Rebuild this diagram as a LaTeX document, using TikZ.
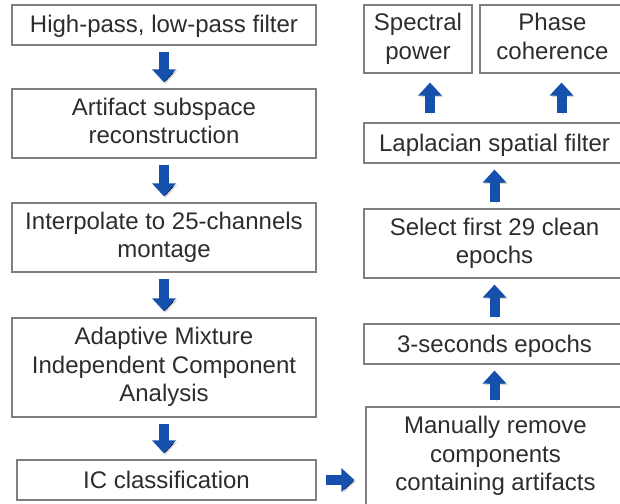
\documentclass[tikz,border=0pt]{standalone}
\usepackage{fontspec}
\setmainfont{Liberation Sans}
\usetikzlibrary{arrows.meta}
\definecolor{boxline}{RGB}{127,127,127}
\definecolor{boxtext}{RGB}{45,45,45}
\definecolor{arrowblue}{RGB}{20,80,172}
\newcommand{\boxstrut}{\rule[-5.5pt]{0pt}{27pt}}

\begin{document}
\begin{tikzpicture}[x=1pt, y=-1pt,
		box/.style={draw=boxline, line width=1.2pt, rectangle, align=center, text=boxtext, inner sep=0pt, font=\fontsize{24}{28.5}\selectfont, execute at begin node=\boxstrut, execute at end node=\boxstrut},
		flow/.style={draw=arrowblue, line width=10pt, -{Triangle[length=13pt, width=23pt]}, shorten <=6pt, shorten >=6pt,
			preaction={draw=black, draw opacity=0.15, transform canvas={xshift=1.5pt, yshift=-1.5pt}}}]
		\useasboundingbox (0,0) rectangle (620,503);
		% left column, top to bottom
		\node (hplp) [box, minimum width=304pt, minimum height=40pt] at (164,25) {High-pass, low-pass filter};
		\node (asr) [box, minimum width=304pt, minimum height=69pt] at (164,123.5) {Artifact subspace\\reconstruction};
		\node (interp) [box, minimum width=304pt, minimum height=69pt] at (164,237.5) {Interpolate to 25-channels\\montage};
		\node (amica) [box, minimum width=304pt, minimum height=99pt] at (164,367.5) {Adaptive Mixture\\Independent Component\\Analysis};
		\node (iclabel) [box, minimum width=299pt, minimum height=40pt] at (166.5,480) {IC classification};
		% right column, bottom to top
		\node (manual) [box, minimum width=259pt, minimum height=99pt] at (495.5,456.5) {Manually remove\\components\\containing artifacts};
		\node (epochs) [box, minimum width=261pt, minimum height=40pt] at (494.5,344) {3-seconds epochs};
		\node (select) [box, minimum width=261pt, minimum height=69pt] at (494.5,243.5) {Select first 29 clean\\epochs};
		\node (laplace) [box, minimum width=261pt, minimum height=40pt] at (494.5,143) {Laplacian spatial filter};
		\node (spectral) [box, minimum width=108pt, minimum height=68pt] at (418,39) {Spectral\\power};
		\node (phase) [box, minimum width=145pt, minimum height=68pt] at (552.5,39) {Phase\\coherence};
		\path ([xshift=12pt]spectral.south) coordinate (specin);
		\path ([xshift=9pt]phase.south) coordinate (phasein);
		\draw[flow] (hplp) -- (asr);
		\draw[flow] (asr) -- (interp);
		\draw[flow] (interp) -- (amica);
		\draw[flow] (amica.south) -- (amica.south |- iclabel.north);
		\draw[flow, shorten <=9pt, shorten >=11pt] (iclabel.east) -- (iclabel.east -| manual.west);
		\draw[flow] (manual.north -| epochs.south) -- (epochs.south);
		\draw[flow] (epochs) -- (select);
		\draw[flow] (select) -- (laplace);
		\draw[flow, shorten <=9pt, shorten >=9pt] (specin |- laplace.north) -- (specin);
		\draw[flow, shorten <=9pt, shorten >=9pt] (phasein |- laplace.north) -- (phasein);
	\end{tikzpicture}
\end{document}
